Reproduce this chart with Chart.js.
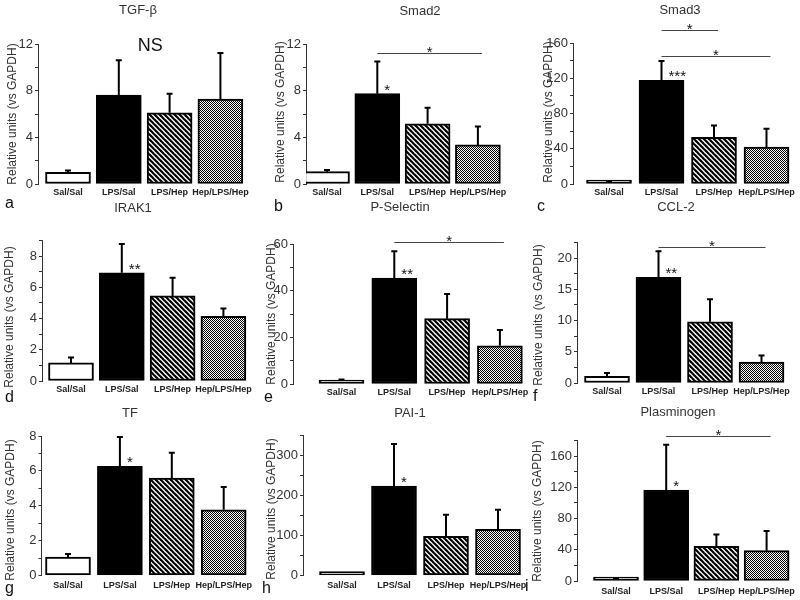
<!DOCTYPE html>
<html>
<head>
<meta charset="utf-8">
<script src="https://cdn.jsdelivr.net/npm/chart.js@4.4.0/dist/chart.umd.min.js"></script>
<style>
    html, body { margin: 0; padding: 0; background: #fff; }
    #wrap { position: relative; width: 800px; height: 600px; overflow: hidden; }
    #wrap canvas { position: absolute; }
</style>
</head>
<body>
<div id="wrap"></div>
<script>
const groups = ['Sal/Sal', 'LPS/Sal', 'LPS/Hep', 'Hep/LPS/Hep'];
const titles = ['TGF-β', 'Smad2', 'Smad3', 'IRAK1', 'P-Selectin', 'CCL-2', 'TF', 'PAI-1', 'Plasminogen'];
const letters = ['a', 'b', 'c', 'd', 'e', 'f', 'g', 'h', 'i'];
const yLabel = 'Relative units (vs GAPDH)';

// mean and error (upper bar only) per group
const tgfMean = [1.0, 7.62, 6.1, 7.28];
const tgfErr = [0.15, 2.98, 1.64, 3.95];
const smad2Mean = [1.06, 7.74, 5.16, 3.35];
const smad2Err = [0.14, 2.76, 1.37, 1.58];
const smad3Mean = [1.9, 117.5, 53, 41.8];
const smad3Err = [1.1, 22, 13.5, 20.9];
const irak1Mean = [1.16, 6.93, 5.45, 4.15];
const irak1Err = [0.34, 1.84, 1.16, 0.49];
const pselMean = [1.4, 45.4, 28, 16.4];
const pselErr = [0.5, 11.5, 10.6, 6.7];
const ccl2Mean = [1.07, 16.9, 9.8, 3.36];
const ccl2Err = [0.53, 4.17, 3.6, 1.04];
const tfMean = [1.05, 6.26, 5.59, 3.77];
const tfErr = [0.19, 1.68, 1.45, 1.3];
const pai1Mean = [4, 222.5, 97.5, 115];
const pai1Err = [0, 105, 54, 49];
const plgMean = [3, 116.5, 44.4, 38.8];
const plgErr = [0.8, 58, 15, 25.2];

const means = [tgfMean, smad2Mean, smad3Mean, irak1Mean, pselMean, ccl2Mean, tfMean, pai1Mean, plgMean];
const errs = [tgfErr, smad2Err, smad3Err, irak1Err, pselErr, ccl2Err, tfErr, pai1Err, plgErr];

// y axis: top, minor tick step, labelled step
const yMax = [12, 12, 160, 9, 60, 22.5, 8, 350, 180];
const yMinor = [2, 2, 20, 1, 10, 2.5, 1, 50, 20];
const yMajor = [4, 4, 40, 2, 20, 5, 2, 100, 40];

// significance: stars on LPS/Sal, brackets [from, to, level]
const starMarks = ['', '*', '***', '**', '**', '**', '*', '*', '*'];
const brackets = [
    [],
    [[1, 3, 11.2]],
    [[1, 2, 174.8], [1, 3, 145.3]],
    [],
    [[1, 3, 60.9]],
    [[1, 3, 21.8]],
    [],
    [],
    [[1, 3, 185.6]],
];

// page layout (px)
const cellX = [0, 260, 520], cellW = [265, 270, 280];
const cellY = [0, 196, 394], cellH = [216, 216, 206];
const layout = [
    { axisX: 38, c0: 68, sp: 50.8, top: 44, zero: 184, title: [138, 10], letter: [9, 204], ylab: [13, 114], lpad: 3.5,
      note: { text: 'NS', x: 1.62, y: 11.8 } },
    { axisX: 306, c0: 327, sp: 50.3, top: 44, zero: 184, title: [420, 11], letter: [278, 207], ylab: [281, 112], lpad: 3.5 },
    { axisX: 573, c0: 609, sp: 52.5, top: 43, zero: 184, title: [680, 10], letter: [541, 207], ylab: [549, 112], lpad: 3.5 },
    { axisX: 42, c0: 71, sp: 50.8, top: 240.5, zero: 381, title: [133, 208], letter: [9, 398], ylab: [10, 317], lpad: 3 },
    { axisX: 293, c0: 341.5, sp: 52.8, top: 244, zero: 384, title: [400, 207], letter: [268, 398], ylab: [272, 314], lpad: 3 },
    { axisX: 577, c0: 607, sp: 51.5, top: 242.4, zero: 383, title: [676, 207], letter: [537, 397], ylab: [539, 315], lpad: 3 },
    { axisX: 41.5, c0: 68, sp: 51.9, top: 436, zero: 575.5, title: [130, 413], letter: [9, 589], ylab: [11, 510], lpad: 5 },
    { axisX: 303, c0: 342, sp: 52, top: 435, zero: 575.5, title: [410, 413], letter: [266, 589], ylab: [272, 509], lpad: 5 },
    { axisX: 577, c0: 616, sp: 50.2, top: 440.4, zero: 581, title: [678, 412], letter: [529, 587], ylab: [538, 511], lpad: 5 },
];

const SANS = "'Liberation Sans', Arial, sans-serif";
const YW = 30, XH = 16, BAR_W = 45;

function stripes(ctx) {
    const c = document.createElement('canvas');
    c.width = 5; c.height = 5;
    const g = c.getContext('2d');
    g.fillStyle = '#fff';
    g.fillRect(0, 0, 5, 5);
    g.strokeStyle = '#000';
    g.lineWidth = 2.2;
    [-5, 0, 5].forEach((k) => {
        g.beginPath();
        g.moveTo(k - 1, -1);
        g.lineTo(k + 6, 6);
        g.stroke();
    });
    return ctx.createPattern(c, 'repeat');
}

function checks(ctx) {
    const c = document.createElement('canvas');
    c.width = 2; c.height = 2;
    const g = c.getContext('2d');
    g.fillStyle = '#fff';
    g.fillRect(0, 0, 2, 2);
    g.fillStyle = '#000';
    g.fillRect(0, 0, 1, 1);
    g.fillRect(1, 1, 1, 1);
    return ctx.createPattern(c, 'repeat');
}

function marks(k, ox, oy) {
    const L = layout[k];
    return {
        id: 'marks' + k,
        afterDatasetsDraw(chart) {
            const ctx = chart.ctx;
            const xs = chart.scales.x, ys = chart.scales.y;
            ctx.save();

            // error bars
            ctx.strokeStyle = '#000';
            ctx.lineWidth = 2;
            means[k].forEach((m, i) => {
                if (!errs[k][i]) return;
                const px = xs.getPixelForValue(i);
                const y0 = ys.getPixelForValue(m);
                const y1 = ys.getPixelForValue(m + errs[k][i]);
                ctx.beginPath();
                ctx.moveTo(px, y0);
                ctx.lineTo(px, y1);
                ctx.moveTo(px - 3, y1);
                ctx.lineTo(px + 3, y1);
                ctx.stroke();
            });

            // stars
            ctx.fillStyle = '#111';
            ctx.font = '15px ' + SANS;
            ctx.textBaseline = 'alphabetic';
            if (starMarks[k]) {
                ctx.textAlign = 'left';
                ctx.fillText(starMarks[k], xs.getPixelForValue(1) + 7, ys.getPixelForValue(means[k][1]) + 1);
            }
            brackets[k].forEach(([a, b, lv]) => {
                const y = Math.round(ys.getPixelForValue(lv)) + 0.5;
                const x0 = xs.getPixelForValue(a), x1 = xs.getPixelForValue(b);
                ctx.strokeStyle = '#444';
                ctx.lineWidth = 1;
                ctx.beginPath();
                ctx.moveTo(x0, y);
                ctx.lineTo(x1 + 4, y);
                ctx.stroke();
                ctx.textAlign = 'center';
                ctx.fillText('*', (x0 + x1) / 2 + 2, y + 3);
            });
            if (L.note) {
                ctx.font = '18px ' + SANS;
                ctx.textAlign = 'center';
                ctx.textBaseline = 'middle';
                ctx.fillText(L.note.text, xs.getPixelForValue(L.note.x), ys.getPixelForValue(L.note.y));
            }

            // panel title, letter, y label
            ctx.textBaseline = 'middle';
            ctx.textAlign = 'center';
            ctx.fillStyle = '#333';
            ctx.font = '13px ' + SANS;
            ctx.fillText(titles[k], L.title[0] - ox, L.title[1] - oy);
            ctx.fillStyle = '#111';
            ctx.font = '16px ' + SANS;
            ctx.textAlign = 'left';
            ctx.fillText(letters[k], L.letter[0] - ox - 4, L.letter[1] - oy);
            ctx.save();
            ctx.translate(L.ylab[0] - ox, L.ylab[1] - oy);
            ctx.rotate(-Math.PI / 2);
            ctx.textAlign = 'center';
            ctx.fillStyle = '#333';
            ctx.font = '12px ' + SANS;
            ctx.fillText(yLabel, 0, 0);
            ctx.restore();

            ctx.restore();
        },
    };
}

const wrap = document.getElementById('wrap');

layout.forEach((L, k) => {
    const row = Math.floor(k / 3), col = k % 3;
    const ox = cellX[col], oy = cellY[row];
    const w = cellW[col], h = cellH[row];

    const canvas = document.createElement('canvas');
    canvas.width = w;
    canvas.height = h;
    canvas.style.left = ox + 'px';
    canvas.style.top = oy + 'px';
    wrap.appendChild(canvas);
    const ctx = canvas.getContext('2d');

    const xMin = (L.axisX - L.c0) / L.sp;
    const xMax = 3.5;
    const plotRight = L.c0 + xMax * L.sp;
    const major = yMajor[k];

    new Chart(ctx, {
        type: 'bar',
        data: {
            datasets: [
                {
                    data: means[k].map((m, i) => ({ x: i, y: m })),
                    backgroundColor: ['#fff', '#000', stripes(ctx), checks(ctx)],
                    borderColor: '#000',
                    borderWidth: 2,
                    borderSkipped: false,
                    barThickness: BAR_W,
                    minBarLength: 4,
                },
            ],
        },
        options: {
            responsive: false,
            animation: false,
            events: [],
            layout: {
                padding: {
                    left: L.axisX - ox - YW,
                    top: L.top - oy,
                    right: ox + w - plotRight,
                    bottom: oy + h - L.zero - XH,
                },
            },
            plugins: {
                legend: { display: false },
                tooltip: { enabled: false },
            },
            scales: {
                x: {
                    type: 'linear',
                    offset: false,
                    min: xMin,
                    max: xMax,
                    afterFit: (s) => {
                        s.height = XH;
                        s.paddingLeft = 0;
                        s.paddingRight = 0;
                    },
                    grid: { display: false, drawTicks: false, offset: false },
                    border: { display: false },
                    ticks: {
                        stepSize: 1,
                        includeBounds: false,
                        autoSkip: false,
                        maxRotation: 0,
                        padding: L.lpad,
                        color: '#222',
                        font: { family: SANS, size: 9, weight: 'bold' },
                        callback: (v) => (Number.isInteger(v) && groups[v]) || '',
                    },
                },
                y: {
                    min: 0,
                    max: yMax[k],
                    afterFit: (s) => {
                        s.width = YW;
                        s.paddingTop = 0;
                        s.paddingBottom = 0;
                    },
                    border: { display: true, color: '#333', width: 1 },
                    grid: { display: true, drawOnChartArea: false, drawTicks: true, tickLength: 3, color: '#333' },
                    ticks: {
                        stepSize: yMinor[k],
                        maxTicksLimit: 30,
                        autoSkip: false,
                        padding: 2,
                        color: '#333',
                        font: { family: SANS, size: 13 },
                        callback: (v) => (Math.abs(v / major - Math.round(v / major)) < 1e-6 ? String(v) : ''),
                    },
                },
            },
        },
        plugins: [marks(k, ox, oy)],
    });
});
</script>
</body>
</html>
